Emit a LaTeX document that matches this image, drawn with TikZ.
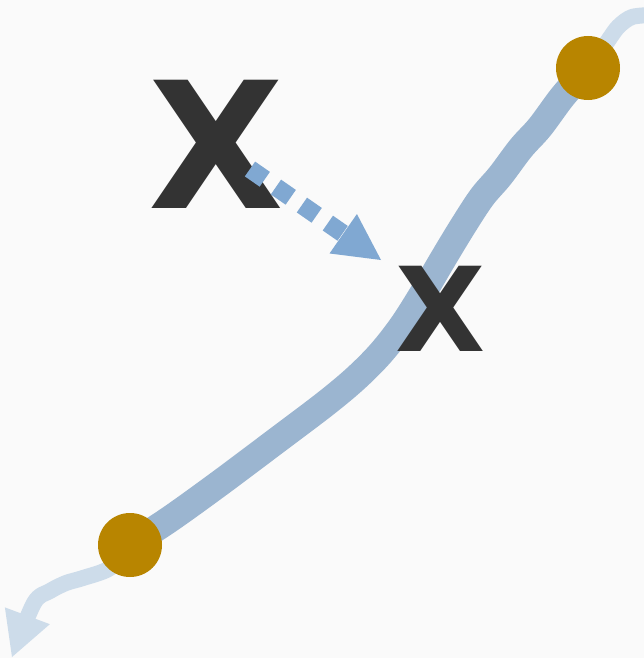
\documentclass[tikz,border=0pt]{standalone}
\usepackage{fontspec}
\newfontfamily\markfont{DejaVu Sans}
\usetikzlibrary{arrows.meta,positioning}
\definecolor{pagebg}{HTML}{FAFAFA}
\definecolor{trackblue}{HTML}{9BB5D0}
\definecolor{tracklight}{HTML}{CDDCEA}
\definecolor{hintblue}{HTML}{80A8D2}
\definecolor{dotgold}{HTML}{B88500}
\definecolor{inkgray}{HTML}{333333}
\pgfdeclarelayer{bg}
\pgfdeclarelayer{trackline}
\pgfsetlayers{bg,trackline,main}

\begin{document}
\begin{tikzpicture}[
  x=1bp, y=-1bp,
  endpoint/.style={circle, fill=dotgold, inner sep=0pt, minimum size=64bp},
  letter/.style={text=inkgray, inner sep=0pt, font=\markfont\bfseries\fontsize{#1}{#1}\selectfont},
  track/.style={draw=trackblue, line width=27bp, line join=round},
  tail/.style={draw=tracklight, line width=16bp, line join=round},
  hint/.style={draw=hintblue, line width=18bp, dash pattern=on 18bp off 13.6bp,
    -{Triangle[length=46bp, width=48bp, line width=0pt]}},
]
\begin{pgfonlayer}{bg}
  \fill[pagebg] (0,0) rectangle (644,658);
\end{pgfonlayer}
\useasboundingbox (0,0) rectangle (644,658);

% End points
\node[endpoint] (dotA) at (588,68) {};
\node[endpoint] (dotB) at (130,545) {};

% Letters
\node[letter=176bp] (bigX)   at (216,144) {X};
\node[letter=117bp] (smallX) at (441,309) {X};

% Track and its faded tails
\coordinate (tailTop) at (652,15);
\coordinate (tailTip) at (12,657);
\begin{pgfonlayer}{trackline}
  \draw[tail] plot[smooth] coordinates {(dotA.center) (605,45) (618,27) (632,17) (tailTop)};
  \draw[tail, -{Triangle[length=44bp, width=48bp, line width=0pt]}]
    plot[smooth] coordinates {(dotB.center) (110,568) (83,578) (66,583) (50,591) (34,603) (tailTip)};
  \draw[track] plot[smooth, tension=0.55] coordinates {(dotA.center) (563,96) (540,127) (521,148)
    (500,176) (482,197) (463,226) (443,259) (423,293) (402,326) (380,354) (355,379)
    (325,404) (280,438) (220,483) (170,519) (dotB.center)};
\end{pgfonlayer}

% Hint arrow
\coordinate (hintStart) at (250,169);
\coordinate (hintTip)   at (381,260);
\draw[hint] (hintStart) -- (hintTip);

\end{tikzpicture}
\end{document}
